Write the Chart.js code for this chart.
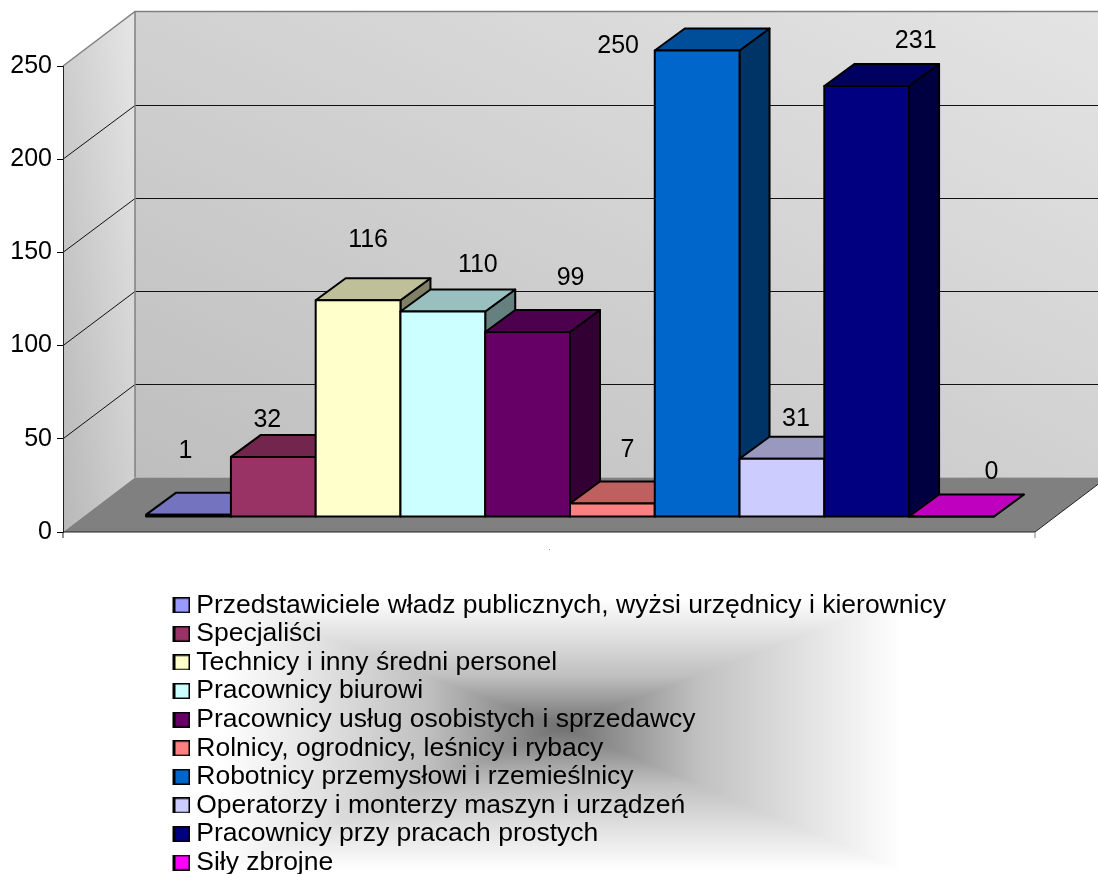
<!DOCTYPE html>
<html>
<head>
<meta charset="utf-8">
<style>
  html, body { margin: 0; padding: 0; background: #fff; }
  canvas { display: block; }
</style>
<script src="https://cdn.jsdelivr.net/npm/chart.js@4/dist/chart.umd.min.js"></script>
</head>
<body>
<canvas id="occupations" width="1098" height="874"></canvas>
<script>
const seriesNames = [
    'Przedstawiciele władz publicznych, wyżsi urzędnicy i kierownicy',
    'Specjaliści',
    'Technicy i inny średni personel',
    'Pracownicy biurowi',
    'Pracownicy usług osobistych i sprzedawcy',
    'Rolnicy, ogrodnicy, leśnicy i rybacy',
    'Robotnicy przemysłowi i rzemieślnicy',
    'Operatorzy i monterzy maszyn i urządzeń',
    'Pracownicy przy pracach prostych',
    'Siły zbrojne'
];
const seriesValues = [1, 32, 116, 110, 99, 7, 250, 31, 231, 0];
const seriesColors = ['#9999ff', '#993366', '#ffffcc', '#ccffff', '#660066', '#ff8080', '#0066cc', '#ccccff', '#000080', '#ff00ff'];

// hand placed value labels, relative to the top of each bar
const labelShiftX = [-3, -6, 10, 35, 43, 15, -79, 14, 49, 40];
const labelShiftY = [-64, -37, -60, -46, -54, -53, -4, -40, -45, -44];

const FONT = 'Liberation Sans';
const FONT_SIZE = 25;
const LEGEND_FONT_SIZE = 26.5;
// 3d look: depth of the bars and of the whole box
const BAR_DX = 30, BAR_DY = 22;
const BOX_DX = 72, BOX_DY = 54.5;
const FLOOR_RIGHT = 1035;

function shade(hex, f) {
    const n = parseInt(hex.slice(1), 16);
    const c = [n >> 16, (n >> 8) & 255, n & 255].map(v => Math.round(v * f));
    return `rgb(${c[0]},${c[1]},${c[2]})`;
}

function poly(ctx, pts) {
    ctx.beginPath();
    pts.forEach((p, i) => i ? ctx.lineTo(p[0], p[1]) : ctx.moveTo(p[0], p[1]));
    ctx.closePath();
}

// gradient running from the bottom left corner to the top right one
function cornerGradient(ctx, x0, y0, x1, y1, from, to) {
    const w = x1 - x0, h = y1 - y0;
    const len = Math.hypot(w, h);
    const nx = h / len, ny = -w / len;
    const half = w * h / len;
    const cx = (x0 + x1) / 2, cy = (y0 + y1) / 2;
    const g = ctx.createLinearGradient(cx - nx * half, cy - ny * half, cx + nx * half, cy + ny * half);
    g.addColorStop(0, from);
    g.addColorStop(1, to);
    return g;
}

// the odd grey shape behind the legend
function drawLegendBackdrop(ctx) {
    const L = 222, R = 902, T = 598, B = 870, cx = 562, cy = 727;
    const parts = [
        [[L, T], [R, T], [cx, cy], [cx, T]],
        [[L, B], [R, B], [cx, cy], [cx, B]],
        [[L, T], [L, B], [cx, cy], [L, cy]],
        [[R, T], [R, B], [cx, cy], [R, cy]]
    ];
    parts.forEach(p => {
        const g = ctx.createLinearGradient(p[3][0], p[3][1], cx, cy);
        g.addColorStop(0, '#ffffff');
        g.addColorStop(0.3, '#e0e0e0');
        g.addColorStop(0.6, '#c0c0c0');
        g.addColorStop(0.8, '#989898');
        g.addColorStop(1, '#707070');
        ctx.fillStyle = g;
        ctx.strokeStyle = g;
        ctx.lineWidth = 1;
        poly(ctx, p.slice(0, 3));
        ctx.fill();
        ctx.stroke();
    });
}

const box3d = {
    id: 'box3d',
    afterLayout(chart) {
        // one legend entry per row under the plot
        const lg = chart.legend;
        lg.left = 171.9;
        lg.top = 589.9;
        lg.right = 1000;
        lg.bottom = 2000;
    },
    beforeDraw(chart) {
        const { ctx, chartArea: area, scales } = chart;
        const left = area.left, bottom = area.bottom, top = area.top;
        const backL = left + BOX_DX, backR = FLOOR_RIGHT + BOX_DX;
        const backB = bottom - BOX_DY, backT = top - BOX_DY;
        ctx.save();
        ctx.fillStyle = '#fff';
        ctx.fillRect(0, 0, chart.width, chart.height);
        drawLegendBackdrop(ctx);

        ctx.fillStyle = cornerGradient(ctx, left, backT, backL, bottom, '#b8b8b8', '#e6e6e6');
        poly(ctx, [[left, top], [backL, backT], [backL, backB], [left, bottom]]);
        ctx.fill();

        ctx.fillStyle = cornerGradient(ctx, backL, backT, backR, backB, '#bebebe', '#e4e4e4');
        ctx.fillRect(backL, backT, backR - backL, backB - backT);

        ctx.fillStyle = '#808080';
        poly(ctx, [[left, bottom], [backL, backB], [backR, backB], [FLOOR_RIGHT, bottom]]);
        ctx.fill();

        // grid lines go across the left wall and then along the back wall
        ctx.strokeStyle = '#111';
        ctx.lineWidth = 1;
        scales.y.ticks.forEach(t => {
            if (t.value === 0 || t.value === 250) return;
            const y = scales.y.getPixelForValue(t.value);
            const backY = Math.round(y - BOX_DY) + 0.5;
            ctx.beginPath();
            ctx.moveTo(left, y);
            ctx.lineTo(backL, backY);
            ctx.lineTo(backR, backY);
            ctx.stroke();
        });

        ctx.strokeStyle = '#808080';
        ctx.lineWidth = 1.5;
        ctx.beginPath();
        ctx.moveTo(left, top);
        ctx.lineTo(backL, backT);
        ctx.lineTo(backR, backT);
        ctx.moveTo(backL, backT);
        ctx.lineTo(backL, backB);
        ctx.stroke();

        // front edge of the floor
        ctx.strokeStyle = '#222';
        ctx.lineWidth = 1;
        ctx.beginPath();
        ctx.moveTo(left, bottom);
        ctx.lineTo(FLOOR_RIGHT, bottom);
        ctx.lineTo(FLOOR_RIGHT + BOX_DX, backB);
        ctx.moveTo(left, bottom);
        ctx.lineTo(left, bottom + 6);
        ctx.stroke();
        ctx.strokeStyle = '#808080';
        ctx.beginPath();
        ctx.moveTo(FLOOR_RIGHT, bottom);
        ctx.lineTo(FLOOR_RIGHT, bottom + 6);
        ctx.stroke();
        ctx.fillStyle = '#999';
        ctx.fillRect(549, 549, 1, 1);
        ctx.restore();
    },
    // library draws right to left, this chart needs left to right
    beforeDatasetDraw() {
        return false;
    },
    afterDatasetsDraw(chart) {
        const ctx = chart.ctx;
        ctx.save();
        ctx.strokeStyle = '#000';
        ctx.lineWidth = 2;
        ctx.lineJoin = 'round';
        seriesValues.forEach((v, i) => {
            const bar = chart.getDatasetMeta(i).data[0];
            const p = bar.getProps(['x', 'y', 'base', 'width'], true);
            const l = p.x - p.width / 2, r = p.x + p.width / 2;
            ctx.fillStyle = shade(seriesColors[i], 0.5);
            poly(ctx, [[r, p.y], [r + BAR_DX, p.y - BAR_DY], [r + BAR_DX, p.base - BAR_DY], [r, p.base]]);
            ctx.fill();
            ctx.stroke();
            ctx.fillStyle = shade(seriesColors[i], 0.75);
            poly(ctx, [[l, p.y], [l + BAR_DX, p.y - BAR_DY], [r + BAR_DX, p.y - BAR_DY], [r, p.y]]);
            ctx.fill();
            ctx.stroke();
            bar.draw(ctx);
            // outline centred on the edge so neighbours share one line
            ctx.strokeRect(l, p.y, p.width, p.base - p.y);
        });
        ctx.fillStyle = '#000';
        ctx.font = `${FONT_SIZE}px "${FONT}"`;
        ctx.textAlign = 'center';
        ctx.textBaseline = 'middle';
        seriesValues.forEach((v, i) => {
            const bar = chart.getDatasetMeta(i).data[0];
            ctx.fillText(String(v), bar.x + labelShiftX[i], bar.y + labelShiftY[i]);
        });
        ctx.restore();
    }
};

// legend swatch as a small canvas, the empty left part sets the gap to the text
function swatch(color) {
    const c = document.createElement('canvas');
    c.width = 23;
    c.height = 16;
    const x = c.getContext('2d');
    x.fillStyle = color;
    x.fillRect(7, 0, 16, 16);
    x.strokeStyle = '#000';
    x.lineWidth = 3;
    x.strokeRect(7, 0, 16, 16);
    return c;
}

new Chart(document.getElementById('occupations'), {
    type: 'bar',
    data: {
        labels: [''],
        datasets: seriesNames.map((name, i) => ({
            label: name,
            data: [seriesValues[i]],
            yAxisID: 'yBar',
            backgroundColor: seriesColors[i],
            borderWidth: 0,
            clip: false
        }))
    },
    options: {
        responsive: false,
        animation: false,
        layout: { padding: { top: 66, right: 21, bottom: 342, left: 0 } },
        categoryPercentage: 0.836,
        barPercentage: 1,
        plugins: {
            tooltip: { enabled: false },
            legend: {
                position: 'chartArea',
                align: 'start',
                labels: {
                    color: '#000',
                    font: { family: FONT, size: LEGEND_FONT_SIZE, lineHeight: 1 },
                    padding: 2.1,
                    boxHeight: 15,
                    usePointStyle: true,
                    pointStyleWidth: 9,
                    generateLabels: () => seriesNames.map((name, i) => ({
                        text: name,
                        datasetIndex: i,
                        fontColor: '#000',
                        pointStyle: swatch(seriesColors[i])
                    }))
                }
            }
        },
        scales: {
            x: { display: false },
            y: {
                position: 'left',
                min: 0,
                max: 250,
                afterFit: s => { s.width = 63; },
                ticks: {
                    stepSize: 50,
                    color: '#000',
                    padding: 5,
                    font: { family: FONT, size: FONT_SIZE }
                },
                grid: { drawOnChartArea: false, color: '#000', tickLength: 6 },
                border: { color: '#222' }
            },
            // bars stand on the floor, a bit above the front axis
            yBar: { display: false, min: -8.3, max: 241.7 }
        }
    },
    plugins: [box3d]
});
</script>
</body>
</html>
